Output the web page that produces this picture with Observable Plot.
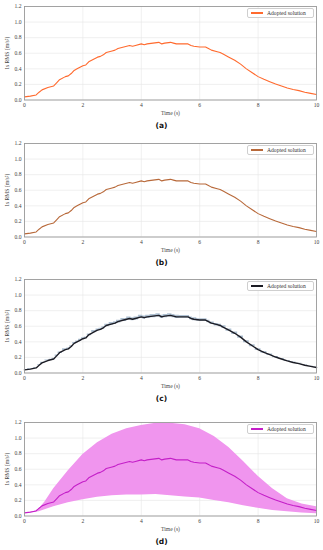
<!DOCTYPE html>
<html>
<head>
<meta charset="utf-8">
<script src="https://cdn.jsdelivr.net/npm/d3@7"></script>
<script src="https://cdn.jsdelivr.net/npm/@observablehq/plot@0.6"></script>
<style>
  body { margin: 0; background: #fff; width: 323px; height: 550px; overflow: hidden; }
  .panel { position: absolute; left: 0; width: 323px; }
  .legend { position: absolute; left: 247px; top: 8px; width: 67px; height: 10px; border: 0.6px solid #cfcfcf; border-radius: 2px; background: #fff; font-family: "Liberation Serif", serif; font-size: 5.6px; color: #333; display: flex; align-items: center; box-sizing: border-box; }
  .legend .sw { display: inline-block; width: 12px; height: 1.8px; margin-left: 3px; margin-right: 4px; }
  .caption { position: absolute; left: 0; width: 323px; text-align: center; font-family: "DejaVu Sans", sans-serif; font-weight: bold; font-size: 7.5px; color: #111; }
</style>
</head>
<body>
<div id="root"></div>
<script>
// ---- data ----
const time = [0, 0.2, 0.4, 0.5, 0.6, 0.8, 0.9, 1.0, 1.1, 1.2, 1.4, 1.5, 1.6, 1.7, 1.8, 1.9, 2.0, 2.1, 2.2, 2.4, 2.5, 2.6, 2.7, 2.8, 3.0, 3.1, 3.2, 3.4, 3.6, 3.7, 3.8, 4.0, 4.1, 4.2, 4.4, 4.6, 4.7, 4.8, 5.0, 5.1, 5.2, 5.4, 5.6, 5.7, 5.8, 6.0, 6.2, 6.3, 6.4, 6.6, 6.7, 6.8, 7.0, 7.2, 7.4, 7.6, 7.8, 8.0, 8.2, 8.4, 8.6, 8.8, 9.0, 9.2, 9.4, 9.6, 9.8, 10.0];
const rms = [0.04, 0.05, 0.065, 0.10, 0.13, 0.16, 0.17, 0.18, 0.22, 0.26, 0.30, 0.31, 0.34, 0.38, 0.40, 0.42, 0.44, 0.45, 0.49, 0.53, 0.55, 0.56, 0.58, 0.61, 0.63, 0.64, 0.66, 0.68, 0.70, 0.69, 0.70, 0.72, 0.71, 0.72, 0.73, 0.74, 0.72, 0.73, 0.74, 0.73, 0.72, 0.72, 0.72, 0.70, 0.69, 0.68, 0.68, 0.66, 0.64, 0.62, 0.61, 0.59, 0.55, 0.51, 0.46, 0.40, 0.35, 0.30, 0.265, 0.235, 0.205, 0.18, 0.155, 0.135, 0.12, 0.10, 0.085, 0.07];
// panel (c) narrow band
const cUpper = [0.045, 0.055, 0.07, 0.105, 0.137, 0.167, 0.178, 0.188, 0.23, 0.27, 0.31, 0.32, 0.35, 0.39, 0.41, 0.432, 0.452, 0.462, 0.502, 0.545, 0.565, 0.575, 0.595, 0.625, 0.648, 0.658, 0.678, 0.70, 0.72, 0.71, 0.72, 0.74, 0.73, 0.74, 0.75, 0.76, 0.74, 0.75, 0.76, 0.75, 0.74, 0.738, 0.738, 0.718, 0.708, 0.697, 0.697, 0.676, 0.656, 0.636, 0.626, 0.605, 0.565, 0.525, 0.474, 0.413, 0.362, 0.311, 0.275, 0.244, 0.213, 0.187, 0.161, 0.14, 0.124, 0.104, 0.088, 0.073];
const cLower = [0.035, 0.045, 0.06, 0.095, 0.123, 0.153, 0.162, 0.172, 0.21, 0.25, 0.29, 0.30, 0.33, 0.37, 0.39, 0.408, 0.428, 0.438, 0.478, 0.515, 0.535, 0.545, 0.565, 0.595, 0.612, 0.622, 0.642, 0.66, 0.68, 0.67, 0.68, 0.70, 0.69, 0.70, 0.71, 0.72, 0.70, 0.71, 0.72, 0.71, 0.70, 0.702, 0.702, 0.682, 0.672, 0.663, 0.663, 0.644, 0.624, 0.604, 0.594, 0.575, 0.535, 0.495, 0.446, 0.387, 0.338, 0.289, 0.255, 0.226, 0.197, 0.173, 0.149, 0.13, 0.116, 0.096, 0.082, 0.067];
// panel (d) wide band
const dTime = [0, 0.3, 0.5, 0.7, 1.0, 1.5, 2.0, 2.5, 3.0, 3.5, 4.0, 4.5, 5.0, 5.5, 6.0, 6.5, 7.0, 7.5, 8.0, 8.5, 9.0, 9.5, 10.0];
const dUpper = [0.04, 0.05, 0.09, 0.18, 0.35, 0.58, 0.79, 0.94, 1.05, 1.12, 1.16, 1.19, 1.19, 1.17, 1.12, 1.02, 0.88, 0.70, 0.51, 0.35, 0.22, 0.155, 0.12];
const dLower = [0.04, 0.045, 0.055, 0.08, 0.12, 0.17, 0.21, 0.24, 0.26, 0.27, 0.27, 0.275, 0.26, 0.245, 0.23, 0.20, 0.17, 0.13, 0.10, 0.07, 0.055, 0.04, 0.03];
const xTicks = [0, 2, 4, 6, 8, 10];
const yTicks = [0, 0.2, 0.4, 0.6, 0.8, 1.0, 1.2];
const captions = ["(a)", "(b)", "(c)", "(d)"];
const legendLabel = "Adopted solution";
const lineColors = ["#ff6a2e", "#b8693a", "#1c1c24", "#c41fc8"];

const series = time.map((t, i) => ({t, v: rms[i], hi: cUpper[i], lo: cLower[i]}));
const dBand = dTime.map((t, i) => ({t, hi: dUpper[i], lo: dLower[i]}));

const panelTops = [0, 137, 273, 416];
const root = document.getElementById("root");

function makePlot(k) {
  const marks = [
    Plot.gridX(xTicks, {stroke: "#e6e6e6", strokeOpacity: 1, strokeWidth: 0.6}),
    Plot.gridY(yTicks, {stroke: "#e6e6e6", strokeOpacity: 1, strokeWidth: 0.6})
  ];
  if (k === 2) marks.push(Plot.areaY(series, {x: "t", y1: "lo", y2: "hi", fill: "#a6bacd", fillOpacity: 0.9, curve: "step"}));
  if (k === 3) marks.push(Plot.areaY(dBand, {x: "t", y1: "lo", y2: "hi", fill: "#f095ee", fillOpacity: 1}));
  marks.push(Plot.line(series, {x: "t", y: "v", stroke: lineColors[k], strokeWidth: k === 2 ? 1.4 : 1.1}));
  marks.push(Plot.frame({stroke: "#9a9a9a", strokeWidth: 0.9}));
  marks.push(Plot.axisX(xTicks, {tickSize: 0, tickPadding: 3, fontSize: 5.6, label: "Time (s)", labelAnchor: "center", labelOffset: 15, labelArrow: "none"}));
  marks.push(Plot.axisY(yTicks, {tickSize: 0, tickPadding: 3, fontSize: 5.6, tickFormat: d3.format(".1f"), label: "1s RMS (m/s²)", labelAnchor: "center", labelOffset: 19, labelArrow: "none"}));
  return Plot.plot({
    width: 323,
    height: 120,
    marginTop: 6,
    marginBottom: 20.5,
    marginLeft: 24,
    marginRight: 7,
    x: {domain: [0, 10]},
    y: {domain: [0, 1.2]},
    style: {fontFamily: "'Liberation Serif', serif", fontSize: "5.6px", color: "#444", background: "transparent", overflow: "visible"},
    marks
  });
}

for (let k = 0; k < 4; k++) {
  const div = document.createElement("div");
  div.className = "panel";
  div.style.top = panelTops[k] + "px";
  div.style.height = "140px";
  div.appendChild(makePlot(k));
  const leg = document.createElement("div");
  leg.className = "legend";
  const sw = document.createElement("span");
  sw.className = "sw";
  sw.style.background = lineColors[k];
  leg.appendChild(sw);
  leg.appendChild(document.createTextNode(legendLabel));
  div.appendChild(leg);
  const cap = document.createElement("div");
  cap.className = "caption";
  cap.style.top = "121px";
  cap.textContent = captions[k];
  div.appendChild(cap);
  root.appendChild(div);
}
</script>
</body>
</html>
